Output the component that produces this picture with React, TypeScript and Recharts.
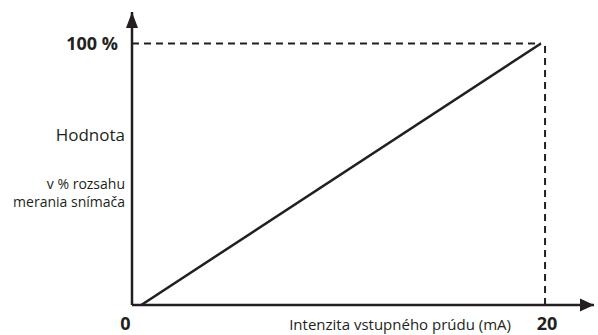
import { LineChart, Line, XAxis, YAxis, ReferenceLine, ReferenceDot, Label } from 'recharts';

// prúd v mA a hodnota v % rozsahu
const current = [0.45, 19.8];
const value = [0, 100];
const xTicks = [0, 20];
const yTicks = [100];
const xMax = 22.37;
const yMax = 112.05;

const data = current.map((c, i) => ({ prud: c, hodnota: value[i] }));

const INK = '#231f20';
const FONT = '"Open Sans", "Noto Sans", sans-serif';

function XTick(props: any) {
  const { x, y, payload } = props;
  const isZero = payload.value === 0;
  return (
    <text
      x={isZero ? x - 6.5 : x + 2}
      y={y + 25}
      textAnchor="middle"
      fill={INK}
      fontFamily={FONT}
      fontWeight={700}
      fontSize={18}
    >
      {payload.value}
    </text>
  );
}

function YTick(props: any) {
  const { y, payload } = props;
  return (
    <text x={118} y={y + 6.5} textAnchor="end" fill={INK} fontFamily={FONT} fontWeight={700} fontSize={18}>
      {payload.value} %
    </text>
  );
}

function YCaption() {
  return (
    <g fill={INK} fontFamily={FONT} textAnchor="end">
      <text x={125} y={141} fontSize={17}>
        Hodnota
      </text>
      <text x={125} y={189} fontSize={14}>
        v % rozsahu
      </text>
      <text x={125} y={207} fontSize={14}>
        merania snímača
      </text>
    </g>
  );
}

function XCaption() {
  return (
    <text x={511} y={330} textAnchor="end" fill={INK} fontFamily={FONT} fontSize={15}>
      Intenzita vstupného prúdu (mA)
    </text>
  );
}

const arrowUp = (p: any) => (
  <polygon points={`${p.cx},${p.cy} ${p.cx - 6},${p.cy + 16} ${p.cx + 6},${p.cy + 16}`} fill={INK} />
);
const arrowRight = (p: any) => (
  <polygon points={`${p.cx},${p.cy} ${p.cx - 14},${p.cy - 6.5} ${p.cx - 14},${p.cy + 6.5}`} fill={INK} />
);

export default function App() {
  return (
    <div style={{ position: 'absolute', left: 0, top: 0, background: '#fff' }}>
      <LineChart width={598} height={335} data={data} margin={{ top: 12, right: 4, left: 0, bottom: 0 }}>
        <XAxis
          dataKey="prud"
          type="number"
          domain={[0, xMax]}
          ticks={xTicks}
          height={30}
          tickSize={0}
          tickMargin={0}
          tick={XTick}
          axisLine={{ stroke: INK, strokeWidth: 2.5 }}
          allowDataOverflow
        >
          <Label content={XCaption} />
        </XAxis>
        <YAxis
          type="number"
          domain={[0, yMax]}
          ticks={yTicks}
          width={132}
          tickSize={0}
          tickMargin={0}
          tick={YTick}
          axisLine={{ stroke: INK, strokeWidth: 2.5 }}
          allowDataOverflow
        >
          <Label content={YCaption} />
        </YAxis>
        <ReferenceLine
          segment={[{ x: 0, y: 100 }, { x: 19.8, y: 100 }]}
          stroke={INK}
          strokeWidth={2}
          strokeDasharray="7 5"
        />
        <ReferenceLine
          segment={[{ x: 20, y: 99 }, { x: 20, y: 0 }]}
          stroke={INK}
          strokeWidth={2}
          strokeDasharray="7 5"
        />
        <ReferenceDot x={0} y={yMax} shape={arrowUp} />
        <ReferenceDot x={xMax} y={0} shape={arrowRight} />
        <Line
          dataKey="hodnota"
          type="linear"
          stroke={INK}
          strokeWidth={2.5}
          dot={false}
          isAnimationActive={false}
        />
      </LineChart>
    </div>
  );
}
